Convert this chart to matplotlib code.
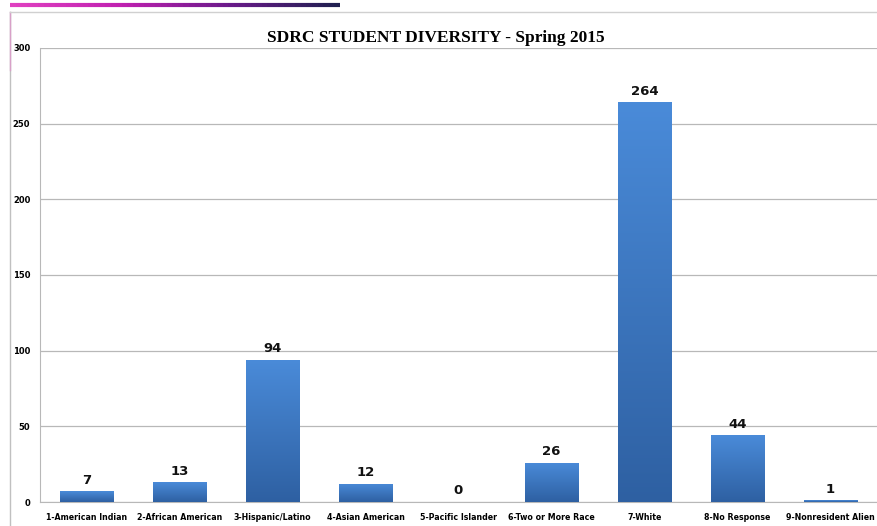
import matplotlib
matplotlib.use("Agg")
import matplotlib.pyplot as plt
from matplotlib.collections import LineCollection
import numpy as np

# enrollment counts by ethnicity
categories = ["1-American Indian", "2-African American", "3-Hispanic/Latino",
              "4-Asian American", "5-Pacific Islander", "6-Two or More Race",
              "7-White", "8-No Response", "9-Nonresident Alien"]
counts = [7, 13, 94, 12, 0, 26, 264, 44, 1]
yticks = [0, 50, 100, 150, 200, 250, 300]

fig = plt.figure(figsize=(8.77, 5.26), dpi=100)
ax = fig.add_axes([40 / 877, 24 / 526, 837 / 877, 454 / 526])

x = np.arange(len(categories))
bars = ax.bar(x, counts, width=0.57, color="#3c7bc9", edgecolor="#3468ad", linewidth=0.6, zorder=3)

# vertical shading inside each bar
grad = np.linspace(0, 1, 256).reshape(-1, 1)
cmap = matplotlib.colors.LinearSegmentedColormap.from_list("bar", ["#2e60a2", "#4a8bd9"])
for b in bars:
    h = b.get_height()
    if h <= 0:
        continue
    im = ax.imshow(grad, cmap=cmap, aspect="auto", origin="lower",
                   extent=[b.get_x(), b.get_x() + b.get_width(), 0, h], zorder=3)
    im.set_clip_path(b)

for xi, v in zip(x, counts):
    ax.text(xi, v + 3, str(v), ha="center", va="bottom", fontsize=9.5,
            fontweight="bold", family="DejaVu Sans", color="#111111")

ax.set_xlim(-0.5, len(categories) - 0.5)
ax.set_ylim(0, 300)
ax.set_yticks(yticks)
ax.set_xticks(x)
ax.set_xticklabels(categories, fontsize=5.7, fontweight="bold", family="Liberation Sans Narrow")
ax.tick_params(axis="y", length=0, pad=7)
ax.tick_params(axis="x", length=0, pad=8)
for lab in ax.get_yticklabels():
    lab.set_fontsize(6.0)
    lab.set_fontweight("bold")
    lab.set_family("Liberation Sans Narrow")

ax.yaxis.grid(True, color="#b8b8b8", linewidth=0.9, zorder=0)
ax.set_axisbelow(True)
for s in ["top", "right"]:
    ax.spines[s].set_visible(False)
ax.spines["left"].set_color("#b8b8b8")
ax.spines["bottom"].set_color("#b8b8b8")

fig.text(436 / 877, 1 - 38 / 526, "SDRC STUDENT DIVERSITY - Spring 2015", ha="center", va="center",
         fontsize=12.5, fontweight="bold", family="Liberation Serif")

# outer chart border on the left and top
fig.add_artist(plt.Line2D([10 / 877, 10 / 877], [0, 1 - 12 / 526], transform=fig.transFigure,
                          color="#c0c0c0", linewidth=1.0))
fig.add_artist(plt.Line2D([10 / 877, 10 / 877], [1 - 70 / 526, 1 - 12 / 526], transform=fig.transFigure,
                          color="#d8a0c8", linewidth=1.0))
fig.add_artist(plt.Line2D([10 / 877, 1], [1 - 12 / 526, 1 - 12 / 526], transform=fig.transFigure,
                          color="#d0d0d0", linewidth=1.0))

# magenta-to-purple header strip
xs = np.linspace(10, 340, 60) / 877
segs = [[(xs[i], 1 - 5 / 526), (xs[i + 1], 1 - 5 / 526)] for i in range(len(xs) - 1)]
strip = matplotlib.colors.LinearSegmentedColormap.from_list("strip", ["#e040c0", "#c020b0", "#6a1a8a", "#202050"])
lc = LineCollection(segs, colors=strip(np.linspace(0, 1, len(segs))), linewidths=3,
                    transform=fig.transFigure)
fig.add_artist(lc)

fig.savefig("out.png", dpi=100)
